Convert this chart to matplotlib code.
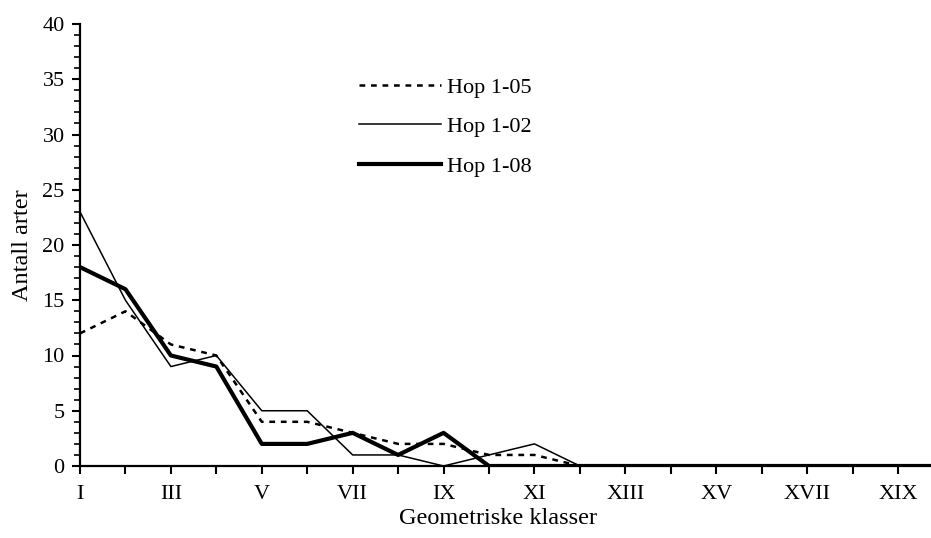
import matplotlib
matplotlib.use("Agg")
import matplotlib.pyplot as plt
from matplotlib.ticker import MultipleLocator

categories = ["I", "II", "III", "IV", "V", "VI", "VII", "VIII", "IX", "X",
              "XI", "XII", "XIII", "XIV", "XV", "XVI", "XVII", "XVIII", "XIX", "XX"]
hop_1_05 = [12, 14, 11, 10, 4, 4, 3, 2, 2, 1, 1, 0, 0, 0, 0, 0, 0, 0, 0, 0]
hop_1_02 = [23, 15, 9, 10, 5, 5, 1, 1, 0, 1, 2, 0, 0, 0, 0, 0, 0, 0, 0, 0]
hop_1_08 = [18, 16, 10, 9, 2, 2, 3, 1, 3, 0, 0, 0, 0, 0, 0, 0, 0, 0, 0, 0]
y_ticks = [0, 5, 10, 15, 20, 25, 30, 35, 40]

plt.rcParams['font.family'] = ['Liberation Serif', 'DejaVu Serif']
FS = 16
LFS = 17.5

W, H = 931, 538
fig = plt.figure(figsize=(W / 100, H / 100), dpi=100)
ax = fig.add_axes([80 / W, (H - 466) / H, (W - 80) / W, (466 - 24) / H])

x = list(range(len(categories)))
ax.plot(x, hop_1_05, color='black', lw=1.8, ls=(0, (2.3, 2.3)), label='Hop 1-05')
ax.plot(x, hop_1_02, color='black', lw=1.1, label='Hop 1-02')
ax.plot(x, hop_1_08, color='black', lw=3.0, label='Hop 1-08')

ax.set_yticks(y_ticks)
ax.yaxis.set_minor_locator(MultipleLocator(1))
ax.set_xticks(x)
ax.set_xticklabels([c if i % 2 == 0 else '' for i, c in enumerate(categories)])
ax.set_ylim(0, 40)
ax.set_xlim(0, (W - 80) / ((898 - 80) / 18))

for s in ['top', 'right']:
    ax.spines[s].set_visible(False)
for s in ['left', 'bottom']:
    ax.spines[s].set_linewidth(1.6)

ax.tick_params(axis='both', which='major', direction='out', length=6, width=1.5,
               labelsize=FS, pad=5)
ax.tick_params(axis='y', which='minor', direction='out', length=4, width=1.2)
ax.tick_params(axis='x', which='major', pad=8)

ax.set_ylabel('Antall arter', fontsize=LFS)
ax.set_xlabel('Geometriske klasser', fontsize=LFS)
ax.yaxis.set_label_coords((22 - 80) / (W - 80), 0.5)
ax.xaxis.set_label_coords((498 - 80) / (W - 80), (466 - 518) / (466 - 24))
ax.xaxis.label.set_va('center')
ax.yaxis.label.set_va('center')

leg = ax.legend(loc='upper left', bbox_to_anchor=(359 / W, 1 - 77 / H),
                bbox_transform=fig.transFigure, frameon=False, fontsize=FS,
                handlelength=3.7, handletextpad=0.27, labelspacing=0.86,
                borderpad=0, borderaxespad=0)

fig.savefig('out.png', dpi=100)
